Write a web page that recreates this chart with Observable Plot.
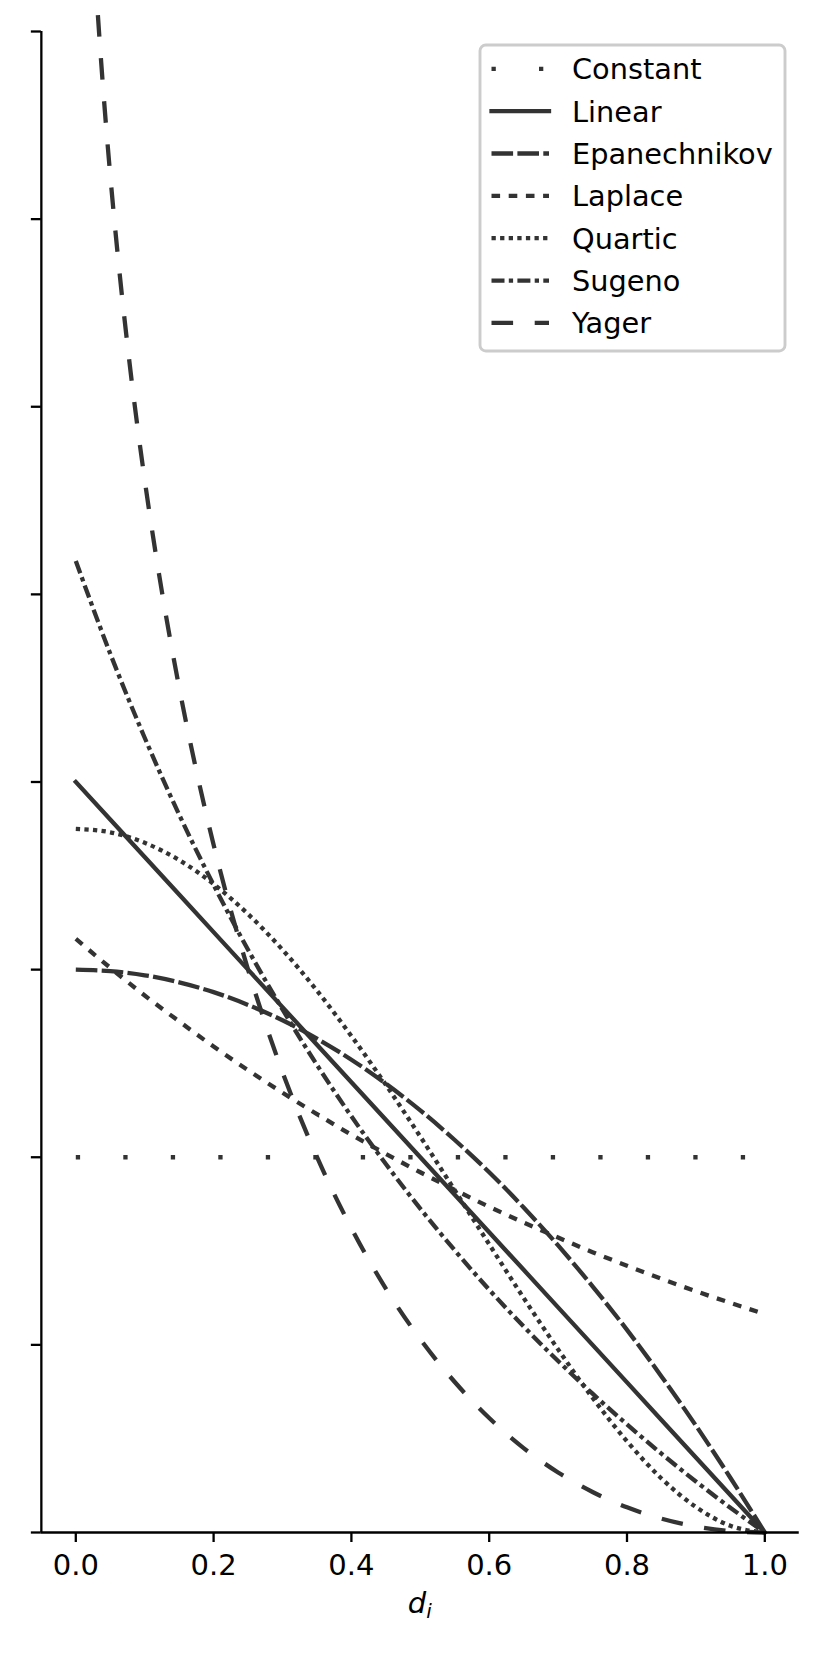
<!DOCTYPE html>
<html><head><meta charset="utf-8">
<script src="https://cdn.jsdelivr.net/npm/d3@7"></script>
<script src="https://cdn.jsdelivr.net/npm/@observablehq/plot@0.6"></script>
<style>
body{margin:0;background:#fff;}
#chart svg{display:block;}
</style>
</head><body><div id="chart"></div>
<script>
// ---- data ----
const seriesNames = ["Constant","Linear","Epanechnikov","Laplace","Quartic","Sugeno","Yager"];
const dGrid = [0,0.05,0.1,0.15,0.2,0.25,0.3,0.35,0.4,0.45,0.5,0.55,0.6,0.65,0.7,0.75,0.8,0.85,0.9,0.95,1];
const constantD = [0,1];
const constantV = [1,1];
const linearV = [2,1.9,1.8,1.7,1.6,1.5,1.4,1.3,1.2,1.1,1.0,0.9,0.8,0.7,0.6,0.5,0.4,0.3,0.2,0.1,0];
const epanechnikovV = [1.5,1.496,1.485,1.466,1.44,1.406,1.365,1.316,1.26,1.196,1.125,1.046,0.96,0.866,0.765,0.656,0.54,0.416,0.285,0.146,0];
const laplaceV = [1.582,1.505,1.431,1.362,1.295,1.232,1.172,1.115,1.060,1.009,0.960,0.913,0.868,0.826,0.786,0.747,0.711,0.676,0.643,0.612,0.582];
const quarticV = [1.875,1.866,1.838,1.792,1.728,1.648,1.553,1.444,1.323,1.193,1.055,0.912,0.768,0.625,0.488,0.359,0.243,0.144,0.068,0.018,0];
const sugenoV = [2.589,2.342,2.118,1.913,1.726,1.553,1.394,1.246,1.109,0.982,0.863,0.752,0.647,0.549,0.457,0.370,0.288,0.210,0.136,0.066,0];
const yagerD = [0,0.01,0.02,0.03,0.04,0.05,0.06,0.08,0.1,0.125,0.15,0.175,0.2,0.25,0.3,0.35,0.4,0.45,0.5,0.55,0.6,0.65,0.7,0.75,0.8,0.85,0.9,0.95,1];
const yagerV = [6,4.86,4.423,4.102,3.84,3.617,3.421,3.086,2.805,2.507,2.252,2.030,1.833,1.5,1.227,1.001,0.811,0.650,0.515,0.401,0.305,0.225,0.160,0.108,0.067,0.037,0.016,0.004,0];
const xTicks = [0,0.2,0.4,0.6,0.8,1.0];
const yTicks = [0,0.5,1,1.5,2,2.5,3,3.5,4];
const xDomain = [-0.05,1.05];
const yDomain = [0,4];
const xLabelBase = "d";
const xLabelSub = "i";

// ---- styles ----
const lineColor = "#333333";
const lw = 4.3;
const dashes = {
  Constant: "4.3,43.2",
  Linear: "none",
  Epanechnikov: "21.6,4.3",
  Laplace: "8.6,8.6",
  Quartic: "4.3,4.3",
  Sugeno: "13,4.3,4.3,4.3",
  Yager: "21.6,21.6"
};

const seriesX = [constantD, dGrid, dGrid, dGrid, dGrid, dGrid, yagerD];
const seriesY = [constantV, linearV, epanechnikovV, laplaceV, quarticV, sugenoV, yagerV];

const W = 830, H = 1661;
const marks = seriesNames.map((name, i) => {
  const rows = seriesX[i].map((x, j) => ({d: x, v: seriesY[i][j]}));
  return Plot.line(rows, {
    x: "d", y: "v",
    stroke: lineColor, strokeWidth: lw,
    strokeDasharray: dashes[name],
    strokeLinecap: name === "Linear" ? "square" : "butt",
    strokeLinejoin: "round",
    curve: name === "Linear" || name === "Constant" ? "linear" : "monotone-x"
  });
});

const plot = Plot.plot({
  width: W, height: H,
  marginLeft: 40.85, marginRight: 31.25, marginTop: 31, marginBottom: 129,
  style: {fontFamily: "DejaVu Sans", background: "white", color: "black", overflow: "visible"},
  x: {domain: xDomain},
  y: {domain: yDomain},
  marks: [
    ...marks,
    Plot.ruleY([yDomain[0]], {stroke: "black", strokeWidth: 2.3}),
    Plot.ruleX([xDomain[0]], {stroke: "black", strokeWidth: 2.3}),
    Plot.axisX({ticks: xTicks, tickSize: 10, tickPadding: 12, fontSize: 29, tickFormat: d3.format(".1f"), strokeWidth: 2.3, label: null}),
    Plot.axisY({ticks: yTicks, tickSize: 10, tickFormat: () => "", strokeWidth: 2.3, label: null})
  ]
});
document.getElementById("chart").appendChild(plot);

// ---- x label (italic d with subscript i) ----
const svg = d3.select(plot);
const xl = svg.append("text")
  .attr("x", 419.8).attr("y", 1613)
  .attr("text-anchor", "middle")
  .attr("font-family", "DejaVu Sans")
  .attr("font-style", "oblique")
  .attr("font-size", 29)
  .attr("fill", "black");
xl.append("tspan").text(xLabelBase);
xl.append("tspan").attr("font-size", 20).attr("dy", 5).text(xLabelSub);

// ---- legend ----
const lg = svg.append("g")
  .attr("font-family", "DejaVu Sans")
  .attr("font-size", 28.8)
  .attr("text-anchor", "start");
lg.append("rect")
  .attr("x", 480).attr("y", 45).attr("width", 305).attr("height", 306)
  .attr("rx", 5.8).attr("ry", 5.8)
  .attr("fill", "white").attr("fill-opacity", 0.8)
  .attr("stroke", "#cccccc").attr("stroke-width", 2.9);
seriesNames.forEach((name, i) => {
  const cy = 68.8 + i * 42.35;
  lg.append("line")
    .attr("x1", 491.5).attr("x2", 549).attr("y1", cy).attr("y2", cy)
    .attr("stroke", lineColor).attr("stroke-width", lw)
    .attr("stroke-dasharray", dashes[name])
    .attr("stroke-linecap", name === "Linear" ? "square" : "butt");
  lg.append("text")
    .attr("x", 572).attr("y", cy).attr("dy", "0.36em")
    .attr("text-anchor", "start")
    .attr("fill", "black").text(name);
});
</script>
</body></html>
